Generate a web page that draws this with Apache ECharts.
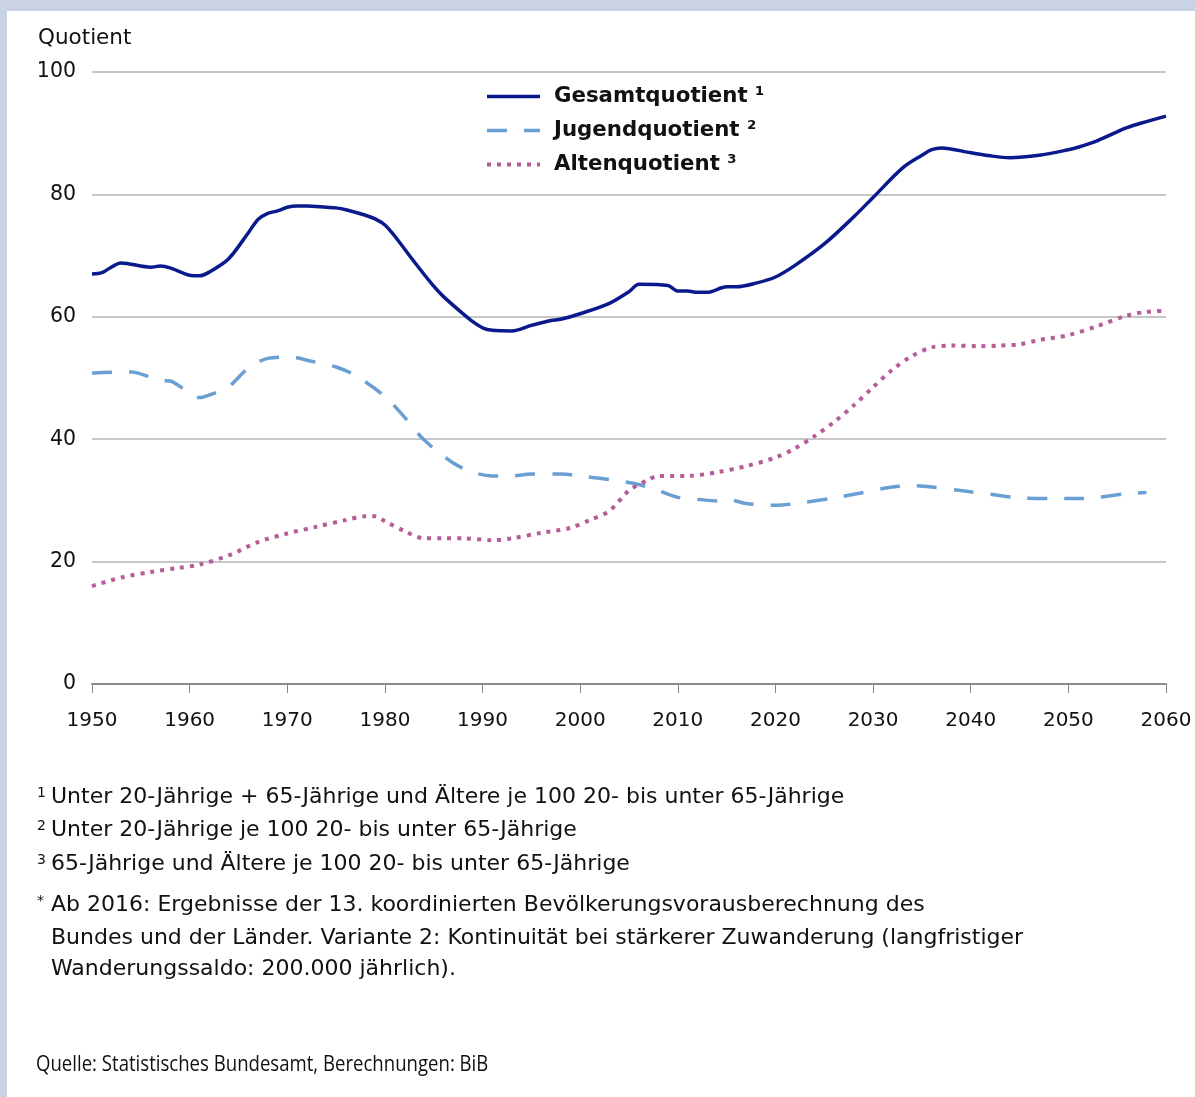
<!DOCTYPE html>
<html>
<head>
<meta charset="utf-8">
<script src="https://cdn.jsdelivr.net/npm/echarts@6/dist/echarts.min.js"></script>
<style>
  html, body { margin: 0; padding: 0; background: #fff; }
  #chart { width: 1195px; height: 1097px; }
</style>
</head>
<body>
<div id="chart"></div>
<script>
// Jahre und Werte
const yearsGesamt = [1950, 1951, 1953, 1956, 1957, 1958, 1960, 1961, 1962, 1964, 1966, 1967, 1968, 1969, 1970, 1971, 1972, 1974, 1975, 1976, 1978, 1979, 1980, 1981, 1983, 1985, 1986, 1988, 1989, 1990, 1991, 1993, 1995, 1997, 1998, 2000, 2003, 2005, 2006, 2009, 2010, 2011, 2012, 2013, 2015, 2016, 2018, 2020, 2022, 2025, 2028, 2030, 2033, 2035, 2036, 2037, 2040, 2042, 2044, 2047, 2050, 2051, 2053, 2056, 2058, 2060];
const gesamt = [67.0, 67.2, 68.8, 68.1, 68.3, 68.0, 66.8, 66.7, 67.3, 69.5, 73.7, 75.9, 76.9, 77.3, 77.9, 78.1, 78.1, 77.9, 77.8, 77.5, 76.6, 76.0, 75.0, 73.2, 69.0, 65.0, 63.3, 60.5, 59.2, 58.2, 57.8, 57.7, 58.6, 59.4, 59.6, 60.5, 62.2, 64.1, 65.3, 65.1, 64.2, 64.2, 64.0, 64.0, 64.9, 64.9, 65.5, 66.5, 68.4, 71.9, 76.3, 79.5, 84.3, 86.4, 87.3, 87.6, 86.8, 86.3, 86.0, 86.4, 87.3, 87.7, 88.8, 90.9, 91.9, 92.8];

const yearsJugend = [1950, 1951, 1954, 1957, 1958, 1961, 1962, 1964, 1966, 1968, 1970, 1971, 1972, 1975, 1977, 1980, 1982, 1984, 1987, 1989, 1991, 1993, 1995, 1998, 2000, 2003, 2006, 2008, 2010, 2012, 2014, 2015, 2017, 2020, 2023, 2026, 2029, 2032, 2034, 2036, 2039, 2042, 2045, 2048, 2051, 2053, 2056, 2058];
const jugend = [50.8, 50.9, 51.0, 49.6, 49.5, 46.8, 47.2, 48.6, 51.6, 53.2, 53.4, 53.3, 52.9, 51.8, 50.4, 47.0, 43.6, 39.9, 36.1, 34.6, 34.0, 34.0, 34.3, 34.3, 34.0, 33.4, 32.6, 31.6, 30.5, 30.2, 29.9, 30.2, 29.5, 29.2, 29.7, 30.4, 31.3, 32.2, 32.4, 32.2, 31.6, 31.0, 30.4, 30.3, 30.3, 30.5, 31.1, 31.3];

const yearsAlten = [1950, 1953, 1956, 1959, 1961, 1964, 1967, 1970, 1973, 1976, 1978, 1979, 1980, 1982, 1984, 1986, 1988, 1991, 1993, 1996, 1999, 2001, 2003, 2005, 2007, 2008, 2011, 2014, 2017, 2020, 2022, 2024, 2026, 2028, 2030, 2032, 2034, 2036, 2038, 2041, 2043, 2045, 2047, 2050, 2053, 2056, 2058, 2060];
const alten = [16.0, 17.4, 18.3, 19.0, 19.5, 21.0, 23.2, 24.6, 25.7, 26.8, 27.4, 27.4, 26.6, 25.0, 23.8, 23.8, 23.8, 23.5, 23.8, 24.7, 25.5, 26.8, 28.3, 31.6, 33.4, 34.0, 34.0, 34.6, 35.6, 37.0, 38.5, 40.5, 42.8, 45.5, 48.5, 51.4, 53.6, 55.0, 55.3, 55.2, 55.3, 55.5, 56.2, 57.0, 58.5, 60.2, 60.8, 61.0];

const xTicks = [1950, 1960, 1970, 1980, 1990, 2000, 2010, 2020, 2030, 2040, 2050, 2060];
const yTicks = [0, 20, 40, 60, 80, 100];

const seriesNames = ['Gesamtquotient ¹', 'Jugendquotient ²', 'Altenquotient ³'];

const pairs = (xs, ys) => xs.map((x, i) => [x, ys[i]]);

const FONT = 'DejaVu Sans, Verdana, sans-serif';

const chart = echarts.init(document.getElementById('chart'), null, { renderer: 'canvas' });

const footnotes = [
  { sup: '1', text: 'Unter 20-Jährige + 65-Jährige und Ältere je 100 20- bis unter 65-Jährige', y: 786 },
  { sup: '2', text: 'Unter 20-Jährige je 100 20- bis unter 65-Jährige', y: 819 },
  { sup: '3', text: '65-Jährige und Ältere je 100 20- bis unter 65-Jährige', y: 853 },
  { sup: '*', text: 'Ab 2016: Ergebnisse der 13. koordinierten Bevölkerungsvorausberechnung des', y: 894 },
  { sup: '', text: 'Bundes und der Länder. Variante 2: Kontinuität bei stärkerer Zuwanderung (langfristiger', y: 927 },
  { sup: '', text: 'Wanderungssaldo: 200.000 jährlich).', y: 958 }
];

const graphics = [
  { type: 'rect', left: 0, top: 0, shape: { width: 1195, height: 11 }, style: { fill: '#c9d3e3' }, silent: true },
  { type: 'rect', left: 0, top: 0, shape: { width: 7, height: 1097 }, style: { fill: '#c9d3e3' }, silent: true },
  { type: 'text', left: 38, top: 27, style: { text: 'Quotient', font: '21.5px ' + FONT, fill: '#111' } }
];
footnotes.forEach(f => {
  if (f.sup) {
    graphics.push({ type: 'text', left: 37, top: f.y, style: { text: f.sup, font: '14px ' + FONT, fill: '#111' } });
  }
  graphics.push({ type: 'text', left: 51, top: f.y, style: { text: f.text, font: '22px ' + FONT, fill: '#111' } });
});
graphics.push({
  type: 'text', left: 36, top: 1055, scaleX: 0.885,
  style: { text: 'Quelle: Statistisches Bundesamt, Berechnungen: BiB', font: '21px "Open Sans", sans-serif', fill: '#111' }
});

const colors = ['#0a1a8c', '#6a9fd3', '#b65c98'];

const option = {
  backgroundColor: '#fff',
  animation: false,
  grid: { left: 92, right: 29, top: 72, bottom: 413, containLabel: false },
  legend: {
    orient: 'vertical',
    left: 480,
    top: 81,
    itemWidth: 53,
    itemHeight: 14,
    itemGap: 13,
    data: [
      { name: seriesNames[0], lineStyle: { width: 3.5 } },
      { name: seriesNames[1], lineStyle: { width: 3.5 } },
      { name: seriesNames[2], lineStyle: { width: 4 } }
    ],
    itemStyle: { opacity: 0 },
    textStyle: { fontFamily: FONT, fontWeight: 'bold', fontSize: 21.3, color: '#111', padding: [0, 0, 0, 9] }
  },
  xAxis: {
    type: 'value',
    min: 1950,
    max: 2060,
    interval: 10,
    axisLine: { show: true, onZero: false, lineStyle: { color: '#8a8a8a', width: 2 } },
    axisTick: { show: true, inside: false, length: 9, lineStyle: { color: '#8a8a8a', width: 1 } },
    axisLabel: { color: '#111', fontFamily: FONT, fontSize: 20, margin: 27, formatter: v => xTicks.includes(v) ? String(v) : '' },
    splitLine: { show: false }
  },
  yAxis: {
    type: 'value',
    min: 0,
    max: 100,
    interval: 20,
    axisLine: { show: false },
    axisTick: { show: false },
    axisLabel: { color: '#111', fontFamily: FONT, fontSize: 20.5, margin: 16, formatter: v => yTicks.includes(v) ? String(v) : '' },
    splitLine: { lineStyle: { color: '#b4b4b4', width: 1.5 } }
  },
  series: [
    {
      name: seriesNames[0],
      type: 'line',
      data: pairs(yearsGesamt, gesamt),
      smooth: 0.3,
      symbol: 'none',
      lineStyle: { color: colors[0], width: 3.5, type: 'solid' },
      itemStyle: { color: colors[0] }
    },
    {
      name: seriesNames[1],
      type: 'line',
      data: pairs(yearsJugend, jugend),
      smooth: 0.3,
      symbol: 'none',
      lineStyle: { color: colors[1], width: 3.5, type: [20, 17] },
      itemStyle: { color: colors[1] }
    },
    {
      name: seriesNames[2],
      type: 'line',
      data: pairs(yearsAlten, alten),
      smooth: 0.3,
      symbol: 'none',
      lineStyle: { color: colors[2], width: 4, type: [4, 6] },
      itemStyle: { color: colors[2] }
    }
  ],
  graphic: graphics
};

chart.setOption(option);
</script>
</body>
</html>
